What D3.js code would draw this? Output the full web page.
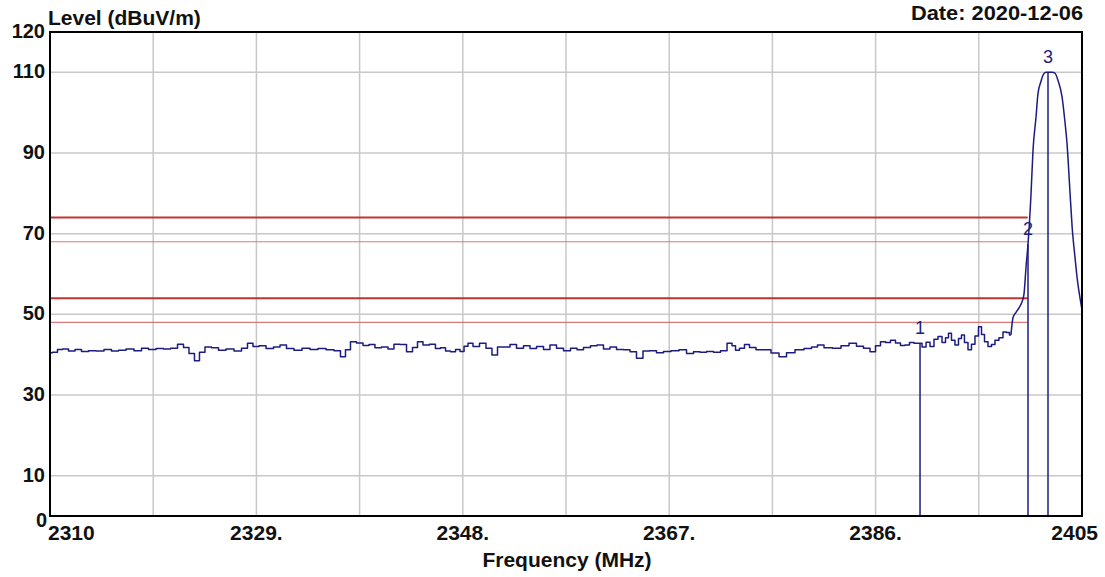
<!DOCTYPE html>
<html>
<head>
<meta charset="utf-8">
<script src="https://cdn.jsdelivr.net/npm/d3@7"></script>
<style>
  html, body { margin: 0; padding: 0; background: #ffffff; }
  svg { display: block; }
  text { font-family: "Liberation Sans", Arial, sans-serif; }
</style>
</head>
<body>
<svg id="chart" width="1105" height="577"></svg>
<script>
// ---------------- data ----------------
const yTitle = "Level (dBuV/m)";
const xTitle = "Frequency (MHz)";
const dateText = "Date: 2020-12-06";

const xDomain = [2310, 2405];
const yDomain = [0, 120];

const xTickValues = [2310, 2329, 2348, 2367, 2386, 2405];
const xTickLabels = ["2310", "2329.", "2348.", "2367.", "2386.", "2405"];
const xGridValues = [2319.5, 2329, 2338.5, 2348, 2357.5, 2367, 2376.5, 2386, 2395.5];

const yTickValues = [0, 10, 30, 50, 70, 90, 110, 120];
const yTickLabels = ["0", "10", "30", "50", "70", "90", "110", "120"];
const yGridValues = [10, 30, 50, 70, 90, 110];

const limitValues = [74, 68, 54, 48];
const limitKinds  = ["thick", "thin", "thick", "thin"];
const limitRange  = [2310, 2400];

const markerIds    = ["1", "2", "3"];
const markerFreqs  = [2390.09, 2400.03, 2401.87];
const markerLevels = [42.8, 67.4, 110.0];

// frequency where the noise floor ends and the emission skirt begins
const skirtStart = 2398.46;

const traceFreq = [
  2310.00, 2310.46, 2310.92, 2311.38, 2312.03, 2312.58, 2313.22, 2313.87, 2314.60, 2315.34,
  2315.98, 2316.63, 2317.36, 2318.10, 2318.75, 2319.39, 2320.13, 2320.77, 2321.42, 2322.06,
  2322.52, 2323.07, 2323.53, 2323.99, 2324.54, 2325.19, 2325.83, 2326.57, 2327.31, 2327.95,
  2328.41, 2328.96, 2329.52, 2330.25, 2330.90, 2331.45, 2332.09, 2332.83, 2333.57, 2334.30,
  2335.04, 2335.78, 2336.51, 2336.97, 2337.43, 2337.89, 2338.54, 2339.09, 2339.64, 2340.19,
  2340.84, 2341.39, 2341.94, 2342.50, 2343.14, 2343.60, 2344.06, 2344.61, 2345.25, 2345.71,
  2346.18, 2346.64, 2347.10, 2347.56, 2347.93, 2348.30, 2348.66, 2349.22, 2349.86, 2350.41,
  2350.96, 2351.43, 2352.07, 2352.62, 2353.27, 2353.91, 2354.46, 2355.11, 2355.75, 2356.30,
  2356.95, 2357.59, 2358.24, 2358.79, 2359.43, 2360.08, 2360.63, 2361.27, 2361.83, 2362.47,
  2363.12, 2363.67, 2364.31, 2364.86, 2365.51, 2366.15, 2366.80, 2367.54, 2368.27, 2368.92,
  2369.56, 2370.11, 2370.76, 2371.40, 2372.05, 2372.60, 2372.97, 2373.24, 2373.70, 2374.16,
  2374.62, 2375.36, 2376.00, 2376.74, 2377.48, 2378.12, 2379.04, 2379.78, 2380.42, 2380.88,
  2381.62, 2382.45, 2383.18, 2383.92, 2384.56, 2385.21, 2385.76, 2386.22, 2386.68, 2387.14,
  2387.60, 2388.06, 2388.52, 2388.89, 2389.35, 2389.72, 2390.09, 2390.46, 2390.83, 2391.19,
  2391.56, 2391.93, 2392.30, 2392.57, 2392.85, 2393.12, 2393.49, 2393.77, 2394.04, 2394.32,
  2394.69, 2394.96, 2395.33, 2395.61, 2395.89, 2396.16, 2396.53, 2396.81, 2397.17, 2397.54,
  2397.91, 2398.19, 2398.46, 2398.65, 2398.93, 2399.20, 2399.48, 2399.66, 2399.85, 2400.03,
  2400.31, 2400.49, 2400.77, 2400.95, 2401.23, 2401.41, 2401.69, 2401.87, 2402.24, 2402.51,
  2402.79, 2403.16, 2403.44, 2403.62, 2403.90, 2404.09, 2404.36, 2404.54, 2404.82, 2405.00
];
const traceLevel = [
  40.5, 40.6, 41.3, 41.4, 40.9, 41.3, 40.8, 41.0, 40.9, 41.3,
  40.9, 41.1, 41.4, 41.0, 41.6, 41.3, 41.5, 41.4, 41.6, 42.6,
  41.8, 40.3, 38.5, 40.6, 41.9, 41.7, 41.1, 41.4, 40.9, 41.6,
  42.8, 42.0, 42.2, 41.5, 41.9, 42.4, 41.5, 41.1, 41.6, 41.3,
  41.5, 41.2, 41.0, 39.5, 41.2, 43.2, 42.9, 42.3, 42.5, 41.7,
  41.9, 41.4, 42.6, 42.5, 40.7, 41.8, 43.2, 42.4, 42.6, 41.5,
  41.7, 40.9, 40.7, 41.3, 40.8, 42.1, 42.8, 42.0, 42.8, 41.6,
  39.9, 41.9, 41.9, 42.5, 41.6, 42.2, 41.5, 42.0, 41.3, 42.4,
  41.6, 41.0, 41.6, 41.2, 41.8, 42.2, 42.4, 41.4, 41.9, 41.3,
  41.2, 40.7, 39.1, 40.9, 41.0, 40.5, 40.8, 41.0, 41.2, 40.3,
  40.7, 40.6, 40.8, 40.6, 41.0, 42.8, 42.2, 41.1, 41.6, 42.5,
  41.8, 41.2, 41.2, 40.4, 39.5, 40.5, 41.2, 41.5, 41.9, 42.4,
  41.7, 41.6, 42.2, 42.8, 42.1, 41.6, 40.7, 42.2, 43.2, 43.0,
  43.6, 42.9, 42.3, 42.4, 43.0, 42.8, 42.8, 41.9, 43.1, 42.0,
  43.8, 44.5, 43.0, 44.2, 45.3, 43.6, 42.4, 44.0, 44.9, 43.0,
  41.2, 42.6, 44.6, 46.9, 45.0, 43.2, 42.0, 42.5, 43.6, 44.2,
  45.6, 45.5, 44.9, 49.2, 50.5, 51.6, 53.1, 55.0, 61.8, 67.4,
  80.0, 90.7, 99.0, 104.8, 107.8, 109.3, 110.0, 110.0, 110.0, 109.8,
  108.0, 104.0, 97.5, 92.4, 80.0, 71.7, 64.0, 59.3, 54.0, 51.1
];

// ---------------- layout ----------------
const plot = { left: 50, top: 32, right: 1082, bottom: 516 };
const svg = d3.select("#chart");

const x = d3.scaleLinear().domain(xDomain).range([plot.left, plot.right]);
const y = d3.scaleLinear().domain(yDomain).range([plot.bottom, plot.top]);

const traceColor = "#1c1c80";

// grid
svg.append("g").selectAll("line").data(xGridValues).join("line")
  .attr("x1", d => x(d)).attr("x2", d => x(d))
  .attr("y1", plot.top).attr("y2", plot.bottom)
  .attr("stroke", "#c8c8c8").attr("stroke-width", 1.5);
svg.append("g").selectAll("line").data(yGridValues).join("line")
  .attr("x1", plot.left).attr("x2", plot.right)
  .attr("y1", d => y(d)).attr("y2", d => y(d))
  .attr("stroke", "#c8c8c8").attr("stroke-width", 1.5);

// limit lines
svg.append("g").selectAll("line").data(limitValues).join("line")
  .attr("x1", x(limitRange[0])).attr("x2", x(limitRange[1]))
  .attr("y1", d => y(d)).attr("y2", d => y(d))
  .attr("stroke", (d, i) => limitKinds[i] === "thick" ? "#c03434" : "#d87a7a")
  .attr("stroke-width", (d, i) => limitKinds[i] === "thick" ? 2 : 1.2);

// markers (vertical lines)
const markers = markerIds.map((id, i) => ({ id, f: markerFreqs[i], v: markerLevels[i] }));
svg.append("g").selectAll("line").data(markers).join("line")
  .attr("x1", d => x(d.f)).attr("x2", d => x(d.f))
  .attr("y1", d => y(d.v)).attr("y2", plot.bottom)
  .attr("stroke", traceColor).attr("stroke-width", 1.5);

// trace: noise floor drawn stepwise, emission skirt drawn as a line
const traceData = traceFreq.map((f, i) => [f, traceLevel[i]]);
const noisePart = traceData.filter(d => d[0] <= skirtStart);
const skirtPart = traceData.filter(d => d[0] >= skirtStart);
svg.append("path")
  .datum(noisePart)
  .attr("fill", "none")
  .attr("stroke", traceColor)
  .attr("stroke-width", 1.5)
  .attr("stroke-linejoin", "round")
  .attr("d", d3.line().curve(d3.curveStep).x(d => x(d[0])).y(d => y(d[1])));
svg.append("path")
  .datum(skirtPart)
  .attr("fill", "none")
  .attr("stroke", traceColor)
  .attr("stroke-width", 1.5)
  .attr("stroke-linejoin", "round")
  .attr("d", d3.line().curve(d3.curveMonotoneX).x(d => x(d[0])).y(d => y(d[1])));

// marker labels
svg.append("g").selectAll("text").data(markers).join("text")
  .attr("x", d => x(d.f))
  .attr("y", d => y(d.v) - 9)
  .attr("text-anchor", "middle")
  .attr("font-size", 18)
  .attr("fill", traceColor)
  .text(d => d.id);

// frame
svg.append("rect")
  .attr("x", plot.left).attr("y", plot.top)
  .attr("width", plot.right - plot.left).attr("height", plot.bottom - plot.top)
  .attr("fill", "none").attr("stroke", "#000").attr("stroke-width", 2);

// y tick labels
svg.append("g").selectAll("text").data(yTickValues).join("text")
  .attr("x", (d) => d === 0 ? 47 : 45)
  .attr("y", d => y(d) + (d === 0 ? 11 : 6))
  .attr("text-anchor", "end")
  .attr("font-size", 20).attr("font-weight", "bold").attr("fill", "#111")
  .text((d, i) => yTickLabels[i]);

// x tick labels
svg.append("g").selectAll("text").data(xTickValues).join("text")
  .attr("x", (d, i) => i === 0 ? x(d) - 2 : (i === xTickValues.length - 1 ? x(d) + 16 : x(d)))
  .attr("y", 540)
  .attr("text-anchor", (d, i) => i === 0 ? "start" : (i === xTickValues.length - 1 ? "end" : "middle"))
  .attr("font-size", 21).attr("font-weight", "bold").attr("fill", "#111")
  .text((d, i) => xTickLabels[i]);

// titles
svg.append("text")
  .attr("x", 48).attr("y", 25)
  .attr("font-size", 21).attr("font-weight", "bold").attr("fill", "#111")
  .text(yTitle);
svg.append("text")
  .attr("x", 1083).attr("y", 20)
  .attr("text-anchor", "end")
  .attr("font-size", 20).attr("font-weight", "bold").attr("fill", "#111")
  .attr("textLength", 172).attr("lengthAdjust", "spacingAndGlyphs")
  .text(dateText);
svg.append("text")
  .attr("x", (plot.left + plot.right) / 2 + 1).attr("y", 567)
  .attr("text-anchor", "middle")
  .attr("font-size", 21).attr("font-weight", "bold").attr("fill", "#111")
  .text(xTitle);
</script>
</body>
</html>
